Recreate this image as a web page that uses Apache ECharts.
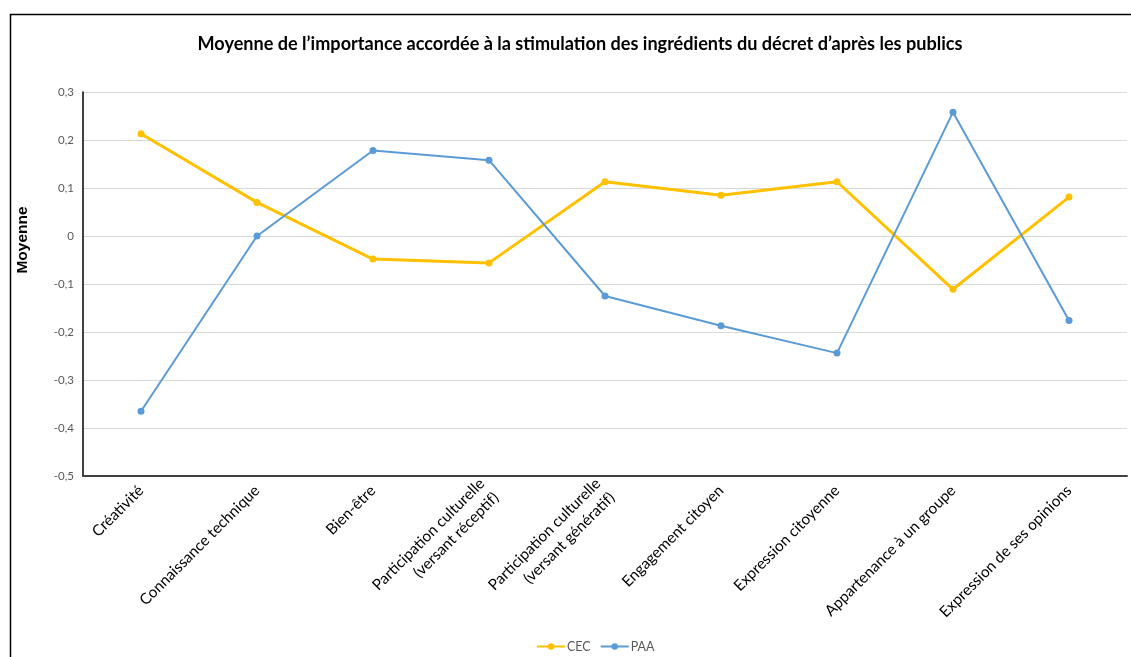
<!DOCTYPE html>
<html><head><meta charset="utf-8">
<script src="https://cdn.jsdelivr.net/npm/echarts@6/dist/echarts.min.js"></script>
<style>html,body{margin:0;padding:0;background:#fff;}#c{width:1131px;height:657px;}</style>
</head><body><div id="c"></div>
<script>
const titleText = "Moyenne de l’importance accordée à la stimulation des ingrédients du décret d’après les publics";
const categories = ["Créativité", "Connaissance technique", "Bien-être", "Participation culturelle\n(versant réceptif)", "Participation culturelle\n(versant génératif)", "Engagement citoyen", "Expression citoyenne", "Appartenance à un groupe", "Expression de ses opinions"];
const cecValues = [0.213, 0.070, -0.048, -0.056, 0.113, 0.085, 0.113, -0.111, 0.081];
const paaValues = [-0.365, 0.000, 0.178, 0.158, -0.125, -0.187, -0.244, 0.258, -0.176];
const seriesNames = ["CEC", "PAA"];
const yAxisName = "Moyenne";

const font = "Lato, 'Noto Sans', sans-serif";
const chart = echarts.init(document.getElementById('c'));
chart.setOption({
  animation: false,
  backgroundColor: '#fff',
  textStyle: { fontFamily: font },
  graphic: [{
    type: 'rect', left: 8, top: 12,
    shape: { width: 1140, height: 660 },
    style: { fill: 'none', stroke: '#000', lineWidth: 1.5 }, silent: true, z: -1
  }, {
    type: 'text', x: 23, y: 240, rotation: Math.PI / 2,
    style: { text: yAxisName, fill: '#000', font: "bold 15.5px 'Liberation Sans', Arial, sans-serif", align: 'center', verticalAlign: 'middle' },
    silent: true
  }],
  title: {
    text: titleText, left: 575, top: 30, textAlign: 'center',
    textStyle: { fontFamily: font, fontWeight: 'bold', fontSize: 18.1, color: '#000' }
  },
  legend: {
    top: 635, left: 531, itemGap: 9, itemWidth: 28, itemHeight: 8,
    textStyle: { fontFamily: font, fontSize: 12.5, color: '#595959', padding: [0, 0, 0, -3] },
    data: seriesNames
  },
  grid: { left: 83, right: 4, top: 92, bottom: 181, containLabel: false, outerBoundsMode: 'none' },
  xAxis: {
    type: 'category', data: categories, boundaryGap: true,
    axisLine: { onZero: false, lineStyle: { color: '#404040', width: 2 } },
    axisTick: { show: false },
    axisLabel: { interval: 0, rotate: 45, fontFamily: font, fontSize: 15.3, lineHeight: 20, color: '#000', margin: 12 }
  },
  yAxis: {
    type: 'value', min: -0.5, max: 0.3, interval: 0.1,
    axisLine: { show: true, lineStyle: { color: '#000', width: 1.5 } },
    axisTick: { show: false },
    splitLine: { lineStyle: { color: '#d9d9d9', width: 1 } },
    axisLabel: {
      fontFamily: font, fontSize: 11.5, color: '#595959', margin: 9,
      formatter: v => { const r = Math.round(v * 10) / 10; return r === 0 ? '0' : r.toFixed(1).replace('.', ','); }
    }
  },
  series: [
    { name: seriesNames[0], type: 'line', data: cecValues, color: '#FFC000',
      lineStyle: { width: 3, color: '#FFC000' }, symbol: 'circle', symbolSize: 7,
      itemStyle: { color: '#FFC000' } },
    { name: seriesNames[1], type: 'line', data: paaValues, color: '#5B9BD5',
      lineStyle: { width: 2, color: '#5B9BD5' }, symbol: 'circle', symbolSize: 7,
      itemStyle: { color: '#5B9BD5' } }
  ]
});
</script></body></html>
